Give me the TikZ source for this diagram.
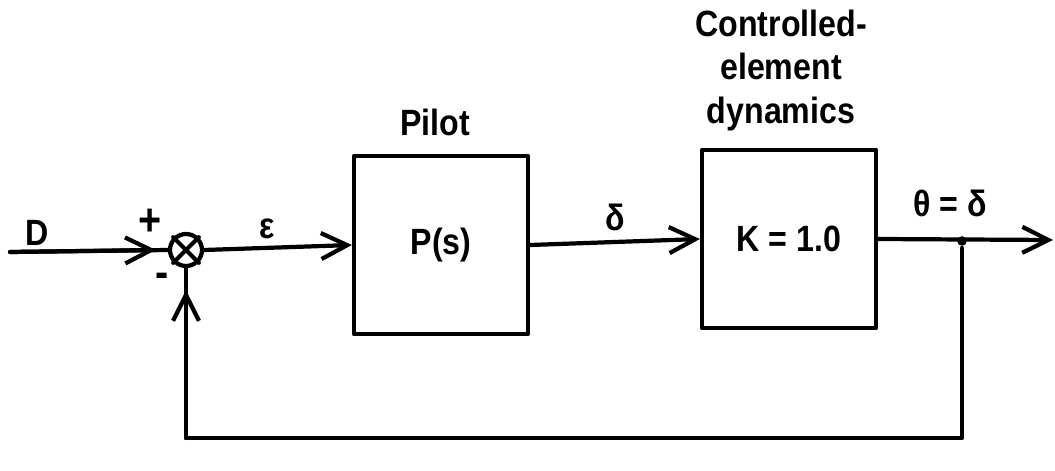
\documentclass[tikz,border=0pt]{standalone}
\usepackage{fontspec}
\setmainfont{Liberation Sans}[FakeStretch=0.88]
\usetikzlibrary{arrows.meta,positioning}
\tikzset{
  bd diagram/.style={font=\bfseries\fontsize{26}{31}\selectfont,
    line width=3pt, line cap=round, line join=round},
  bd box/.style={draw, minimum width=43.5mm, minimum height=44.5mm,
    inner sep=0pt, align=center},
  bd sum/.style={draw, circle, minimum size=8mm, inner sep=0pt},
  bd dot/.style={fill, circle, minimum size=2.4mm, inner sep=0pt},
  bd arrow/.style={-{Straight Barb[length=6.5mm,width=6.5mm,line width=3pt]}},
  bd label/.style={inner sep=1pt},
  bd sign/.style={bd label, font=\bfseries\fontsize{32}{32}\selectfont}
}
\begin{document}
\begin{tikzpicture}[bd diagram,x=0.25mm,y=-0.25mm]
\useasboundingbox (0,0) rectangle (1055,471);
\coordinate (in) at (10,252);
\node[bd sum] (sum) at (186,250) {};
\draw (sum.north west) -- (sum.south east) (sum.north east) -- (sum.south west);
\node[bd box] (pilot) at (441,245) {P(s)};
\node[bd box] (plant) at (789,239) {K = 1.0};
\node[bd dot] (tap) at (962,241) {};
\coordinate (out) at (1053,240);
\coordinate (fb right) at (962,438);
\coordinate (fb left) at (sum |- fb right);
\node[bd label,above=3.6mm of pilot,xshift=-1.5mm] (pilot title) {Pilot};
\node[bd label,above=3.4mm of plant,xshift=-2mm,align=center] (plant title)
  {Controlled-\\element\\dynamics};
\draw (in) -- (sum.west);
\draw[bd arrow] (in) -- ([xshift=-3mm]sum.west);
\draw[bd arrow] (sum.east) -- (pilot.west);
\draw[bd arrow] (pilot.east) -- (plant.west);
\draw[bd arrow] (plant.east) -- (out);
\draw (tap) -- (fb right) -- (fb left) -- (sum.south);
\draw[bd arrow] (fb left) -- ([yshift=-5.5mm]sum.south);
\node[bd label] (d lbl) at (37,233) {D};
\node[bd sign] (plus lbl) at (150,222) {+};
\node[bd sign] (minus lbl) at (162,280) {-};
\node[bd label] (err lbl) at (267,229) {ε};
\node[bd label] (ctl lbl) at (615,217) {δ};
\node[bd label] (out lbl) at (950,203) {θ = δ};
\end{tikzpicture}
\end{document}
